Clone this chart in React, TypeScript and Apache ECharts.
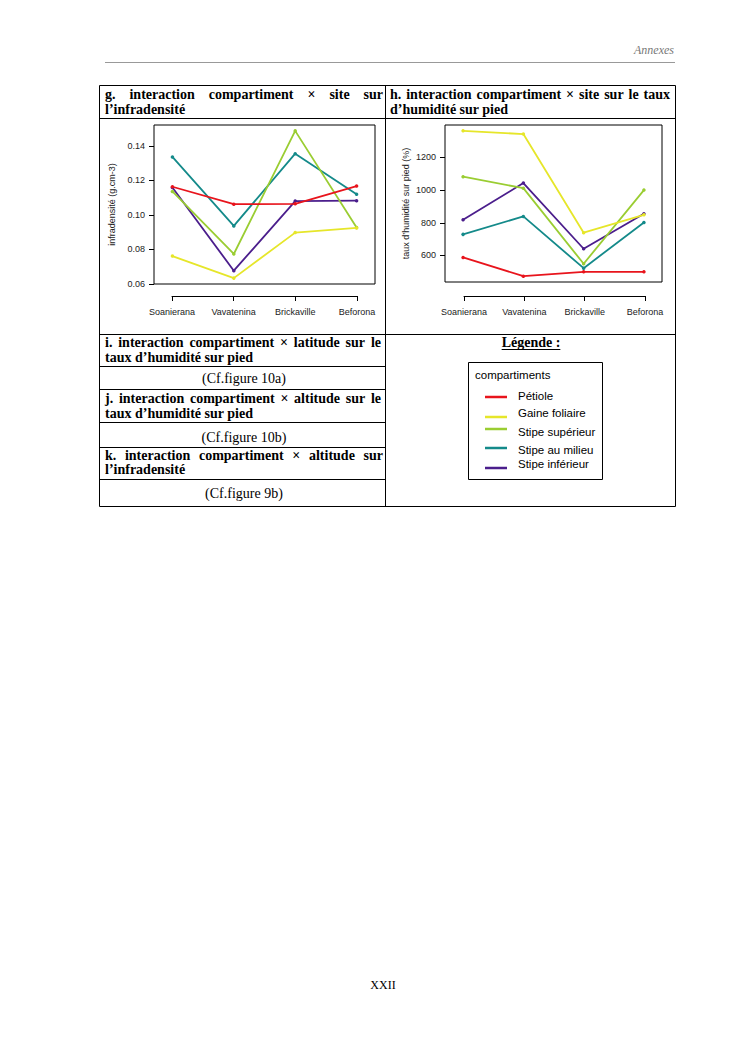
import React, { useEffect, useRef } from 'react';
import * as echarts from 'echarts';

const sites = ['Soanierana', 'Vavatenina', 'Brickaville', 'Beforona'];
const compartments = ['Pétiole', 'Gaine foliaire', 'Stipe supérieur', 'Stipe au milieu', 'Stipe inférieur'];
const compColors = ['#E8141C', '#E6E62A', '#9ACD32', '#148A8A', '#4B1E8C'];

// infradensité (g.cm-3) per compartment, by site
const infraPetiole = [0.1163, 0.1062, 0.1064, 0.1167];
const infraGaine = [0.0761, 0.0633, 0.0897, 0.0924];
const infraSup = [0.1136, 0.0773, 0.1487, 0.0927];
const infraMilieu = [0.1336, 0.0936, 0.1355, 0.1120];
const infraInf = [0.1159, 0.0676, 0.1080, 0.1082];

// taux d'humidité sur pied (%) per compartment, by site
const humPetiole = [588, 473, 500, 500];
const humGaine = [1363, 1343, 739, 849];
const humSup = [1082, 1012, 549, 1000];
const humMilieu = [729, 839, 522, 802];
const humInf = [818, 1043, 641, 855];

const infraTicks = [0.06, 0.08, 0.1, 0.12, 0.14];
const humTicks = [600, 800, 1000, 1200];

const infraSeries = [infraPetiole, infraGaine, infraSup, infraMilieu, infraInf];
const humSeries = [humPetiole, humGaine, humSup, humMilieu, humInf];

const SANS = '"Liberation Sans", Arial, Helvetica, sans-serif';
const SERIF = '"Liberation Serif", "Times New Roman", serif';

function expandRange(rows: number[][]): [number, number] {
  const f = rows.flat();
  const mn = Math.min(...f);
  const mx = Math.max(...f);
  const d = (mx - mn) * 0.04;
  return [mn - d, mx + d];
}

function measure(text: string, font: string): number {
  const c = document.createElement('canvas').getContext('2d');
  if (!c) return text.length * 7;
  c.font = font;
  return c.measureText(text).width;
}

function justified(line: string, left: number, right: number, y: number, font: string) {
  const words = line.split(' ');
  const widths = words.map((w) => measure(w, font));
  const total = widths.reduce((a, b) => a + b, 0);
  const gap = (right - left - total) / (words.length - 1);
  let x = left;
  return words.map((w, i) => {
    const el = {
      type: 'text',
      style: { text: w, x, y, font, fill: '#000', textVerticalAlign: 'middle' },
    };
    x += widths[i] + gap;
    return el;
  });
}

function txt(text: string, x: number, y: number, font: string, align = 'left', fill = '#000') {
  return {
    type: 'text',
    style: { text, x, y, font, fill, textAlign: align, textVerticalAlign: 'middle' },
  };
}

function ln(x1: number, y1: number, x2: number, y2: number, color = '#000', w = 1) {
  return {
    type: 'line',
    shape: { x1, y1, x2, y2 },
    style: { stroke: color, lineWidth: w },
  };
}

export default function App() {
  const ref = useRef<HTMLDivElement>(null);

  useEffect(() => {
    if (!ref.current) return;
    const chart = echarts.init(ref.current, null, { renderer: 'svg' });

    const [gMin, gMax] = expandRange(infraSeries);
    const [hMin, hMax] = expandRange(humSeries);

    const bold = `bold 14px ${SERIF}`;
    const reg = `14px ${SERIF}`;

    const graphics: any[] = [];
    // page header
    graphics.push(txt('Annexes', 674, 50, `italic 12px ${SERIF}`, 'right', '#777'));
    graphics.push(ln(105, 62.5, 675, 62.5, '#999', 1));
    // table frame
    const L = 99.5, M = 385.5, R = 675.5, T = 85.5, B = 506.5;
    [T, 118.5, 334.5, B].forEach((y) => graphics.push(ln(L, y, R, y)));
    [366.5, 389.5, 422.5, 447.5, 479.5].forEach((y) => graphics.push(ln(L, y, M, y)));
    [L, M, R].forEach((x) => graphics.push(ln(x, T, x, B)));

    // header texts
    graphics.push(...justified('g. interaction compartiment × site sur', 105, 383, 94, bold));
    graphics.push(txt('l’infradensité', 105, 109, bold));
    graphics.push(...justified('h. interaction compartiment × site sur le taux', 390, 670, 94, bold));
    graphics.push(txt('d’humidité sur pied', 390, 109, bold));

    graphics.push(...justified('i. interaction compartiment × latitude sur le', 105, 381, 342, bold));
    graphics.push(txt('taux d’humidité sur pied', 105, 357, bold));
    graphics.push(txt('(Cf.figure 10a)', 244, 378, reg, 'center'));
    graphics.push(...justified('j. interaction compartiment × altitude sur le', 105, 381, 398, bold));
    graphics.push(txt('taux d’humidité sur pied', 105, 413, bold));
    graphics.push(txt('(Cf.figure 10b)', 244, 437, reg, 'center'));
    graphics.push(...justified('k. interaction compartiment × altitude sur', 105, 383, 455, bold));
    graphics.push(txt('l’infradensité', 105, 469, bold));
    graphics.push(txt('(Cf.figure 9b)', 244, 493, reg, 'center'));

    // legend
    const legTitle = 'Légende :';
    const legFont = `bold 14px ${SERIF}`;
    graphics.push(txt(legTitle, 531, 342, legFont, 'center'));
    const tw = measure(legTitle, legFont);
    graphics.push(ln(531 - tw / 2, 349.5, 531 + tw / 2, 349.5, '#000', 1));
    graphics.push({
      type: 'rect',
      shape: { x: 468.5, y: 362.5, width: 134, height: 117 },
      style: { stroke: '#000', fill: 'none', lineWidth: 1 },
    });
    const lgFont = `11.5px ${SANS}`;
    graphics.push(txt('compartiments', 475, 375, lgFont));
    const legLineY = [397, 417, 429, 448, 468];
    const legTextY = [396, 413, 432, 450, 464];
    compartments.forEach((c, i) => {
      graphics.push(ln(485, legLineY[i], 507, legLineY[i], compColors[i], 2.5));
      graphics.push(txt(c, 518, legTextY[i], lgFont));
    });

    // page number
    graphics.push(txt('XXII', 383, 985, `12px ${SERIF}`, 'center'));

    const axisFont = { fontFamily: SANS, fontSize: 9, color: '#222' };

    const mkSeries = (rows: number[][], xi: number, yi: number) =>
      rows.map((vals, i) => ({
        type: 'line',
        name: compartments[i],
        xAxisIndex: xi,
        yAxisIndex: yi,
        data: vals.map((v, k) => [k + 1, v]),
        symbol: 'circle',
        symbolSize: 3.5,
        showSymbol: true,
        lineStyle: { color: compColors[i], width: 1.8 },
        itemStyle: { color: compColors[i] },
        z: 10 - i,
        silent: true,
      }));

    const siteAxis = (grid: number) => ({
      type: 'value', gridIndex: grid, min: 1, max: 4, interval: 1, position: 'bottom',
      axisLine: { show: true, lineStyle: { color: '#000', width: 1 } },
      axisTick: { show: true, inside: false, length: 5, lineStyle: { color: '#000' } },
      axisLabel: { ...axisFont, margin: 11, formatter: (v: number) => sites[Math.round(v) - 1] ?? '' },
      splitLine: { show: false },
    });

    chart.setOption({
      animation: false,
      backgroundColor: '#fff',
      grid: [
        { left: 154, top: 125, width: 221, height: 159, show: true, borderColor: '#000', borderWidth: 1, backgroundColor: 'transparent' },
        { left: 172, top: 295, width: 185, height: 1, show: false },
        { left: 445, top: 125, width: 217, height: 157, show: true, borderColor: '#000', borderWidth: 1, backgroundColor: 'transparent' },
        { left: 464, top: 295, width: 181, height: 1, show: false },
      ],
      xAxis: [
        { type: 'value', gridIndex: 0, min: 0.7, max: 4.3, show: false },
        siteAxis(1),
        { type: 'value', gridIndex: 2, min: 0.7, max: 4.3, show: false },
        siteAxis(3),
      ],
      yAxis: [
        {
          type: 'value', gridIndex: 0, min: gMin, max: gMax,
          name: 'infradensité (g.cm-3)', nameLocation: 'middle', nameGap: 38, nameRotate: 90,
          nameTextStyle: { fontFamily: SANS, fontSize: 9, color: '#222' },
          axisLine: { show: false },
          axisTick: { show: true, inside: false, length: 5, customValues: infraTicks, lineStyle: { color: '#000' } },
          axisLabel: { ...axisFont, margin: 9, customValues: infraTicks, formatter: (v: number) => v.toFixed(2) },
          splitLine: { show: false },
        },
        { type: 'value', gridIndex: 1, show: false },
        {
          type: 'value', gridIndex: 2, min: hMin, max: hMax,
          name: 'taux d’humidité sur pied (%)', nameLocation: 'middle', nameGap: 35, nameRotate: 90,
          nameTextStyle: { fontFamily: SANS, fontSize: 9, color: '#222' },
          axisLine: { show: false },
          axisTick: { show: true, inside: false, length: 5, customValues: humTicks, lineStyle: { color: '#000' } },
          axisLabel: { ...axisFont, margin: 9, customValues: humTicks, formatter: (v: number) => String(v) },
          splitLine: { show: false },
        },
        { type: 'value', gridIndex: 3, show: false },
      ],
      series: [...mkSeries(infraSeries, 0, 0), ...mkSeries(humSeries, 2, 2)],
      graphic: graphics,
    });

    return () => chart.dispose();
  }, []);

  return (
    <div
      ref={ref}
      style={{ position: 'absolute', left: 0, top: 0, width: 745, height: 1053, background: '#fff' }}
    />
  );
}
